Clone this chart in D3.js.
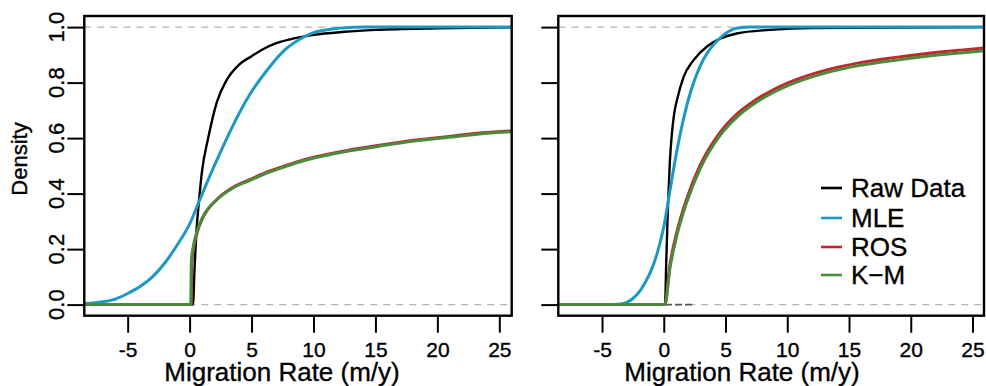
<!DOCTYPE html>
<html>
<head>
<meta charset="utf-8">
<script src="https://cdn.jsdelivr.net/npm/d3@7"></script>
<style>
  html, body { margin: 0; padding: 0; background: #fff; }
  svg { display: block; }
  text { font-family: "Liberation Sans", Arial, Helvetica, sans-serif; fill: #000; stroke: #000; stroke-width: 0.35px; }
</style>
</head>
<body>
<svg id="chart" width="986" height="386"></svg>
<script>
// ---- data ---------------------------------------------------------------
const xTicks = [-5, 0, 5, 10, 15, 20, 25];
const yTicks = [0, 0.2, 0.4, 0.6, 0.8, 1.0];
const yTickLabels = ["0.0", "0.2", "0.4", "0.6", "0.8", "1.0"];
const seriesNames = ["Raw Data", "MLE", "ROS", "K\u2212M"];
const seriesColors = ["#000000", "#1b98c4", "#c1272d", "#4a8b3c"];
const xTitle = "Migration Rate (m/y)";
const yTitle = "Density";

// cumulative curves, left panel: [migration rate, cumulative density]
const leftRaw = [[-8.5,0],[0.27,0],[0.4,0.13],[0.54,0.256],[0.75,0.37],[1.0,0.48],[1.5,0.6],[2.2,0.73],[3.0,0.81],[4.0,0.865],[5.0,0.895],[6.0,0.922],[7.0,0.942],[8.5,0.96],[10,0.972],[12.5,0.983],[15,0.99],[20,0.996],[26,0.999]];
const leftMle = [[-8.5,0.003],[-7,0.01],[-6,0.02],[-5,0.04],[-4,0.065],[-3,0.1],[-2,0.15],[-1,0.215],[0,0.29],[0.75,0.37],[1.6,0.46],[2.7,0.57],[3.5,0.645],[4.83,0.755],[6.17,0.84],[7.5,0.91],[8.86,0.955],[10,0.98],[11.5,0.993],[12.6,0.998],[14,1.0],[26,1.0]];
const leftRos = [[-8.5,0],[0.14,0],[0.16,0.1],[0.2,0.16],[0.35,0.21],[0.58,0.255],[1.1,0.316],[2.15,0.377],[3.5,0.423],[4.83,0.45],[6.17,0.476],[7.5,0.497],[8.86,0.517],[10.2,0.533],[12.9,0.557],[15.6,0.576],[18.3,0.593],[20.9,0.606],[23.6,0.619],[26,0.626]];
const leftKm = [[-8.5,0],[0.1,0],[0.12,0.1],[0.15,0.16],[0.3,0.21],[0.54,0.256],[1.07,0.316],[2.15,0.376],[3.5,0.42],[4.83,0.447],[6.17,0.473],[7.5,0.494],[8.86,0.514],[10.2,0.53],[12.9,0.554],[15.6,0.573],[18.3,0.59],[20.9,0.603],[23.6,0.616],[26,0.623]];

// cumulative curves, right panel
const rightRaw = [[-8.5,0],[0.1,0],[0.2,0.15],[0.3,0.3],[0.38,0.4],[0.5,0.52],[0.66,0.617],[0.85,0.69],[1.07,0.737],[1.6,0.82],[2.4,0.88],[3.5,0.93],[4.0,0.945],[4.56,0.958],[5.9,0.977],[8.6,0.99],[12,0.997],[26,1.0]];
const rightRawZeroRun = [0.1, 2.3];   // short run of raw observations sitting on zero
const rightMle = [[-8.5,0],[-4.5,0],[-3.5,0.002],[-3,0.008],[-2.5,0.022],[-2,0.045],[-1.5,0.08],[-1,0.125],[-0.5,0.19],[0,0.28],[0.5,0.41],[1.0,0.54],[1.5,0.65],[2.0,0.74],[2.5,0.81],[3.0,0.865],[3.5,0.905],[4.0,0.935],[4.5,0.958],[5.0,0.977],[5.5,0.99],[6.0,0.997],[7,1.0],[26,1.0]];
const rightRos = [[-8.5,0],[0.08,0],[0.48,0.138],[1.05,0.26],[1.85,0.381],[2.93,0.501],[4.56,0.621],[5.9,0.686],[7.25,0.732],[8.6,0.768],[10.5,0.807],[13.2,0.846],[15.9,0.872],[18.6,0.89],[21.3,0.905],[24,0.917],[26,0.925]];
const rightKm = [[-8.5,0],[0.1,0],[0.5,0.13],[1.07,0.25],[1.87,0.37],[2.95,0.49],[4.56,0.61],[5.9,0.675],[7.25,0.722],[8.6,0.758],[10.5,0.797],[13.2,0.836],[15.9,0.862],[18.6,0.88],[21.3,0.895],[24,0.907],[26,0.915]];

// ---- layout -------------------------------------------------------------
const svg = d3.select("#chart");
const frameTop = 16, frameBottom = 315.7;

const panels = [
  { left: 84.3, right: 511.7, xDomain: [-8.5, 26.0], series: [leftRaw, leftMle, leftRos, leftKm],
    zeroRun: null, yLabels: true, legend: false, titleX: 282 },
  { left: 558.3, right: 984, xDomain: [-8.54, 25.93], series: [rightRaw, rightMle, rightRos, rightKm],
    zeroRun: rightRawZeroRun, yLabels: false, legend: true, titleX: 742 }
];

const y = d3.scaleLinear().domain([-0.04, 1.04]).range([frameBottom, frameTop]);
const lineWidths = [2.4, 3, 3, 3];

panels.forEach((p, i) => {
  const x = d3.scaleLinear().domain(p.xDomain).range([p.left, p.right]);
  const g = svg.append("g");

  const clipId = "clip" + i;
  svg.append("clipPath").attr("id", clipId)
    .append("rect")
    .attr("x", p.left).attr("y", frameTop)
    .attr("width", p.right - p.left).attr("height", frameBottom - frameTop);

  // reference lines at 0 and 1
  g.selectAll("line.ref").data([0, 1]).join("line")
    .attr("class", "ref")
    .attr("x1", p.left).attr("x2", p.right)
    .attr("y1", d => y(d)).attr("y2", d => y(d))
    .attr("stroke", "#b4b4b4").attr("stroke-width", 1.3)
    .attr("stroke-dasharray", "7,6");

  if (p.zeroRun) {
    g.append("line")
      .attr("x1", x(p.zeroRun[0])).attr("x2", x(p.zeroRun[1]))
      .attr("y1", y(0)).attr("y2", y(0))
      .attr("stroke", "#555").attr("stroke-width", 1.6)
      .attr("stroke-dasharray", "7,3");
  }

  // curves
  const line = d3.line()
    .x(d => x(d[0])).y(d => y(d[1]))
    .curve(d3.curveMonotoneX);
  const curves = g.append("g").attr("clip-path", `url(#${clipId})`);
  p.series.forEach((s, k) => {
    curves.append("path")
      .datum(s)
      .attr("d", line)
      .attr("fill", "none")
      .attr("stroke", seriesColors[k])
      .attr("stroke-width", lineWidths[k])
      .attr("stroke-linejoin", "round");
  });

  // x axis
  const xAxis = d3.axisBottom(x).tickValues(xTicks).tickSize(17).tickPadding(6);
  const xg = g.append("g").attr("transform", `translate(0,${frameBottom})`).call(xAxis);
  xg.select(".domain").remove();
  xg.selectAll(".tick line").attr("stroke", "#000").attr("stroke-width", 2);
  xg.selectAll(".tick text")
    .attr("y", 0).attr("dy", null)
    .attr("transform", "translate(0,41)")
    .style("font-size", "21px")
    .text(d => d < 0 ? "-" + Math.abs(d) : d);

  // y axis
  const yAxis = d3.axisLeft(y).tickValues(yTicks).tickSize(17).tickFormat("");
  const yg = g.append("g").attr("transform", `translate(${p.left},0)`).call(yAxis);
  yg.select(".domain").remove();
  yg.selectAll(".tick line").attr("stroke", "#000").attr("stroke-width", 2);
  yg.selectAll(".tick text").remove();
  if (p.yLabels) {
    g.selectAll("text.ylab").data(yTicks).join("text")
      .attr("class", "ylab")
      .attr("transform", d => `translate(64,${y(d)}) rotate(-90)`)
      .attr("text-anchor", "middle")
      .style("font-size", "22px")
      .text((d, j) => yTickLabels[j]);
  }

  // frame
  g.append("rect")
    .attr("x", p.left).attr("y", frameTop)
    .attr("width", p.right - p.left).attr("height", frameBottom - frameTop)
    .attr("fill", "none").attr("stroke", "#000").attr("stroke-width", 2.4);

  // x title
  g.append("text")
    .attr("x", p.titleX).attr("y", 381)
    .attr("text-anchor", "middle")
    .style("font-size", "26px")
    .text(xTitle);

  if (p.legend) {
    const lg = g.append("g");
    const rows = [188, 218, 247, 275];
    seriesNames.forEach((name, k) => {
      lg.append("line")
        .attr("x1", 821).attr("x2", 842)
        .attr("y1", rows[k]).attr("y2", rows[k])
        .attr("stroke", seriesColors[k]).attr("stroke-width", 2.6);
      lg.append("text")
        .attr("x", 851).attr("y", rows[k] + 9)
        .style("font-size", "26px")
        .text(name);
    });
  }
});

// y title
svg.append("text")
  .attr("transform", "translate(27,159) rotate(-90)")
  .attr("text-anchor", "middle")
  .style("font-size", "22px")
  .text(yTitle);
</script>
</body>
</html>
